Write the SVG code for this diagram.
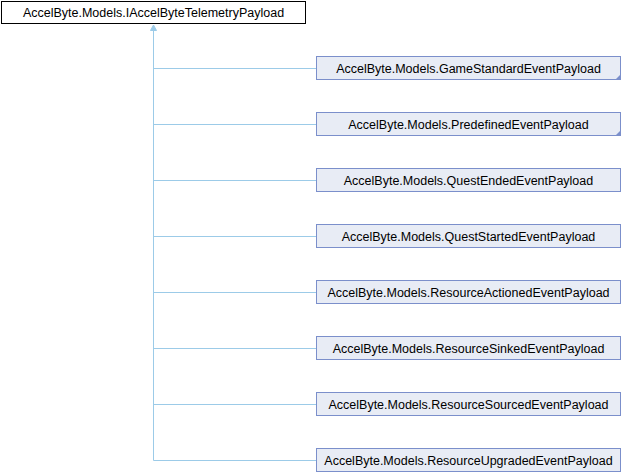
<svg xmlns="http://www.w3.org/2000/svg" width="622" height="472" viewBox="0 0 622 472">
<defs>
<style>
.base{fill:#ffffff;stroke:#000000;stroke-width:1}
.node{fill:#e8ecf5;stroke:#7b8fcb;stroke-width:1}
.t{font-family:"Liberation Sans",Arial,sans-serif;font-size:12.5px;fill:#000000;text-anchor:middle}
.edge{fill:none;stroke:#9ccbe8;stroke-width:1}
.more{fill:#7b8fcb}
</style>
<marker id="arr" markerWidth="12" markerHeight="12" refX="5" refY="0" orient="auto" markerUnits="userSpaceOnUse" viewBox="0 -1 10 10">
<path d="M5,0 L8,6 L2,6 Z" fill="#9ccbe8" stroke="#9ccbe8" stroke-width="1"/>
</marker>
</defs>
<rect width="622" height="472" fill="#ffffff"/>
<g id="connectors">
<path class="edge" d="M153.5,460.5 V25"/>
<path d="M153.5,25 L156.5,30.5 L150.5,30.5 Z" fill="#9ccbe8" stroke="#9ccbe8" stroke-width="1"/>
<path class="edge" d="M153.5,68.5 H316"/>
<path class="edge" d="M153.5,124.5 H316"/>
<path class="edge" d="M153.5,180.5 H316"/>
<path class="edge" d="M153.5,236.5 H316"/>
<path class="edge" d="M153.5,292.5 H316"/>
<path class="edge" d="M153.5,348.5 H316"/>
<path class="edge" d="M153.5,404.5 H316"/>
<path class="edge" d="M153.5,460.5 H316"/>
</g>
<g id="IAccelByteTelemetryPayload">
<rect class="base" x="1.5" y="1.5" width="304" height="22"/>
<text class="t" x="153.5" y="17">AccelByte.Models.IAccelByteTelemetryPayload</text>
</g>
<g id="GameStandardEventPayload">
<rect class="node" x="316.5" y="56.5" width="304" height="23"/>
<text class="t" x="468.5" y="72.5">AccelByte.Models.GameStandardEventPayload</text>
<path class="more" d="M621,74 V80 H615 Z"/>
</g>
<g id="PredefinedEventPayload">
<rect class="node" x="316.5" y="112.5" width="304" height="23"/>
<text class="t" x="468.5" y="128.5">AccelByte.Models.PredefinedEventPayload</text>
<path class="more" d="M621,130 V136 H615 Z"/>
</g>
<g id="QuestEndedEventPayload">
<rect class="node" x="316.5" y="168.5" width="304" height="23"/>
<text class="t" x="468.5" y="184.5">AccelByte.Models.QuestEndedEventPayload</text>
</g>
<g id="QuestStartedEventPayload">
<rect class="node" x="316.5" y="224.5" width="304" height="23"/>
<text class="t" x="468.5" y="240.5">AccelByte.Models.QuestStartedEventPayload</text>
</g>
<g id="ResourceActionedEventPayload">
<rect class="node" x="316.5" y="280.5" width="304" height="23"/>
<text class="t" x="468.5" y="296.5">AccelByte.Models.ResourceActionedEventPayload</text>
</g>
<g id="ResourceSinkedEventPayload">
<rect class="node" x="316.5" y="336.5" width="304" height="23"/>
<text class="t" x="468.5" y="352.5">AccelByte.Models.ResourceSinkedEventPayload</text>
</g>
<g id="ResourceSourcedEventPayload">
<rect class="node" x="316.5" y="392.5" width="304" height="23"/>
<text class="t" x="468.5" y="408.5">AccelByte.Models.ResourceSourcedEventPayload</text>
</g>
<g id="ResourceUpgradedEventPayload">
<rect class="node" x="316.5" y="448.5" width="304" height="23"/>
<text class="t" x="468.5" y="464.5">AccelByte.Models.ResourceUpgradedEventPayload</text>
</g>
</svg>
